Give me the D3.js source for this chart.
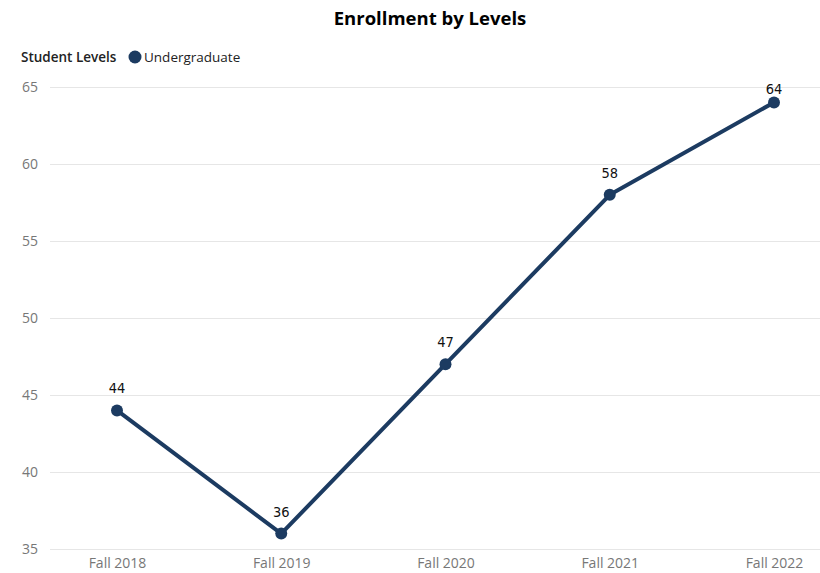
<!DOCTYPE html>
<html>
<head>
<meta charset="utf-8">
<script src="https://cdn.jsdelivr.net/npm/d3@7"></script>
<style>
  body { margin: 0; background: #fff; }
  svg { display: block; }
</style>
</head>
<body>
<svg id="chart" width="820" height="573"></svg>
<script>
const categories = ["Fall 2018", "Fall 2019", "Fall 2020", "Fall 2021", "Fall 2022"];
const undergraduate = [44, 36, 47, 58, 64];
const yTicks = [35, 40, 45, 50, 55, 60, 65];
const seriesName = "Undergraduate";
const legendTitle = "Student Levels";
const title = "Enrollment by Levels";

const color = "#1c3b61";
const font = "'Open Sans', 'Noto Sans', sans-serif";

const svg = d3.select("#chart");

const x = d3.scalePoint().domain(categories).range([117, 774]);
const y = d3.scaleLinear().domain([35, 65]).range([549, 87]);

// title
svg.append("text")
  .attr("x", 430).attr("y", 25)
  .attr("text-anchor", "middle")
  .attr("font-family", font)
  .attr("font-weight", "bold")
  .attr("font-size", 18.5)
  .attr("fill", "#000")
  .text(title);

// legend
svg.append("text")
  .attr("x", 21).attr("y", 62)
  .attr("font-family", font)
  .attr("font-weight", 600)
  .attr("font-size", 13.5)
  .attr("fill", "#222")
  .text(legendTitle);
svg.append("circle")
  .attr("cx", 135).attr("cy", 57).attr("r", 6.5)
  .attr("fill", color);
svg.append("text")
  .attr("x", 144).attr("y", 62)
  .attr("font-family", font)
  .attr("font-size", 13.5)
  .attr("fill", "#222")
  .text(seriesName);

// gridlines
const yAxis = d3.axisLeft(y).tickValues(yTicks).tickSize(-770).tickPadding(12);
const gy = svg.append("g").attr("transform", "translate(50,0)").call(yAxis);
gy.select(".domain").remove();
gy.selectAll(".tick line").attr("stroke", "#e6e6e6").attr("stroke-width", 1);
gy.selectAll(".tick text")
  .attr("font-family", font)
  .attr("font-size", 14)
  .attr("fill", "#777");

// x axis
const xAxis = d3.axisBottom(x).tickSize(0).tickPadding(5);
const gx = svg.append("g").attr("transform", "translate(0,553)").call(xAxis);
gx.select(".domain").remove();
gx.selectAll(".tick text")
  .attr("font-family", font)
  .attr("font-size", 14)
  .attr("fill", "#777");

const data = categories.map((c, i) => ({ c, v: undergraduate[i] }));

// line
svg.append("path")
  .datum(data)
  .attr("fill", "none")
  .attr("stroke", color)
  .attr("stroke-width", 4)
  .attr("stroke-linejoin", "round")
  .attr("d", d3.line().x(d => x(d.c)).y(d => y(d.v)));

// points
svg.selectAll("circle.pt")
  .data(data)
  .join("circle")
  .attr("class", "pt")
  .attr("cx", d => x(d.c))
  .attr("cy", d => y(d.v))
  .attr("r", 6)
  .attr("fill", color);

// data labels
svg.selectAll("text.lbl")
  .data(data)
  .join("text")
  .attr("class", "lbl")
  .attr("x", d => x(d.c))
  .attr("y", d => Math.max(y(d.v) - 17, 94))
  .attr("text-anchor", "middle")
  .attr("font-family", "'DejaVu Sans Condensed', 'DejaVu Sans', sans-serif")
  .attr("font-size", 14.5)
  .attr("fill", "#111")
  .text(d => d.v);
</script>
</body>
</html>
